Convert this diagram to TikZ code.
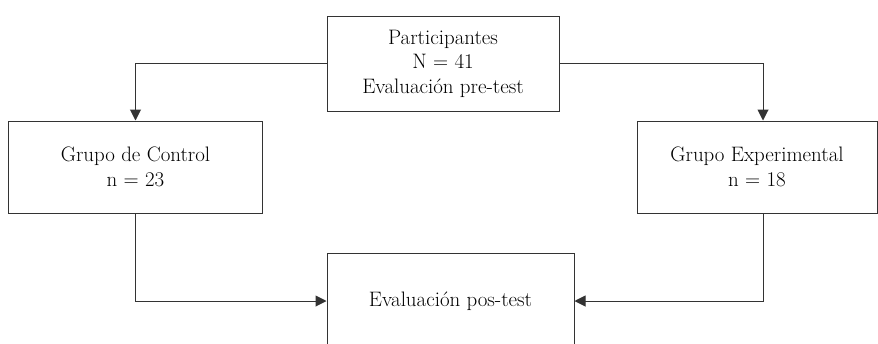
\documentclass[tikz,border=0pt]{standalone}
\usepackage{fontspec}
\usetikzlibrary{arrows.meta}
\begin{document}
\begin{tikzpicture}[x=1bp,y=-1bp,
  box/.style={draw=black!80, line width=1bp, align=center, inner sep=0pt,
    font=\fontsize{21}{24.5}\selectfont, text=black},
  link/.style={draw=black!80, line width=1bp,
    -{Triangle[length=11bp,width=11bp]}}]
  \useasboundingbox (0,0) rectangle (878,343);
  \clip (0,0) rectangle (878,343);
  % boxes
  \node[box, minimum width=232bp, minimum height=95bp] (top) at (443,63.5)
    {Participantes\\N = 41\\Evaluación pre-test};
  \node[box, minimum width=253bp, minimum height=92bp] (ctrl) at (135.5,167)
    {Grupo de Control\\n = 23};
  \node[box, minimum width=240bp, minimum height=92bp] (expt) at (757,167)
    {Grupo Experimental\\n = 18};
  \node[box, minimum width=247bp, minimum height=96bp] (post) at (450.5,301)
    {Evaluación pos-test};
  % column of the right-hand connector
  \coordinate (rx) at (763,0);
  % connectors
  \draw[link] (top.west) -| (ctrl.north);
  \draw[link] (top.east) -| (rx |- expt.north);
  \draw[link] (ctrl.south) |- (post.west);
  \draw[link] (rx |- expt.south) |- (post.east);
\end{tikzpicture}
\end{document}
